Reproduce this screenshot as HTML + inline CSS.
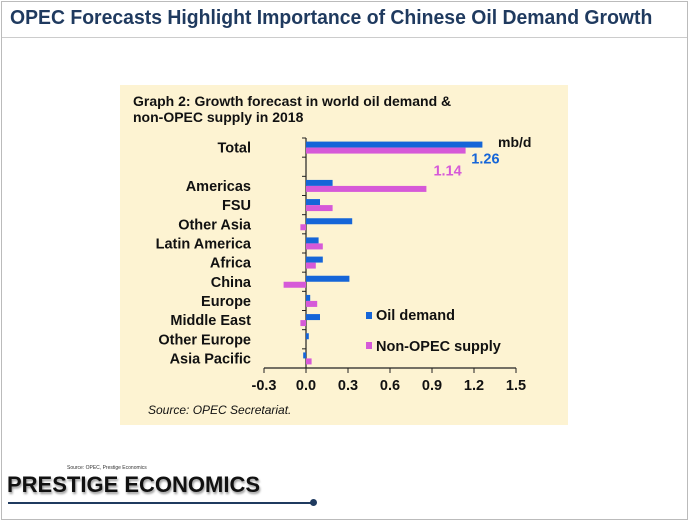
<!DOCTYPE html>
<html><head><meta charset="utf-8"><style>
body{margin:0;width:689px;height:521px;background:#fff;position:relative;overflow:hidden;font-family:"Liberation Sans",sans-serif}
.abs{position:absolute}
</style></head><body>
<div class="abs" style="left:1px;top:1px;width:685px;height:517px;border:1px solid #bbb"></div>
<div class="abs" id="title" style="left:10px;top:7px;font-size:20px;font-weight:bold;color:#1f3a5f;white-space:nowrap;transform-origin:0 0">OPEC Forecasts Highlight Importance of Chinese Oil Demand Growth</div>
<div class="abs" style="left:2px;top:37px;width:685px;height:1px;background:#ccc"></div>
<svg class="abs" style="left:0;top:0" width="689" height="521">
<rect x="120" y="85" width="448" height="340" fill="#fdf3d2"/>
<text x="133" y="106" font-size="14" font-weight="bold" fill="#111">Graph 2: Growth forecast in world oil demand &amp;</text>
<text x="133" y="122" font-size="14" font-weight="bold" fill="#111">non-OPEC supply in 2018</text>
<text x="498" y="147" font-size="14" font-weight="bold" fill="#111">mb/d</text>
<g id="g"></g>
<text x="148" y="414" font-size="12" font-style="italic" fill="#111">Source: OPEC Secretariat.</text>
</svg>
<div class="abs" style="left:67px;top:465px;font-size:5px;color:#333">Source: OPEC, Prestige Economics</div>
<div class="abs" style="left:7px;top:472px;font-size:22px;font-weight:bold;color:#111;letter-spacing:0px;text-shadow:1px 2px 2px #999">PRESTIGE ECONOMICS</div>
<div class="abs" style="left:8px;top:502px;width:306px;height:2px;background:#1f3a5f"></div>
<div class="abs" style="left:310px;top:499px;width:7px;height:7px;border-radius:50%;background:#1f3a5f"></div>
<script>
const categories=["Total","","Americas","FSU","Other Asia","Latin America","Africa","China","Europe","Middle East","Other Europe","Asia Pacific"];
const oilDemand=[1.26,null,0.19,0.10,0.33,0.09,0.12,0.31,0.03,0.10,0.02,-0.02];
const nonOpecSupply=[1.14,null,0.86,0.19,-0.04,0.12,0.07,-0.16,0.08,-0.04,0,0.04];
const ticks=[-0.3,0,0.3,0.6,0.9,1.2,1.5];
const tickLabels=["-0.3","0.0","0.3","0.6","0.9","1.2","1.5"];
const t=document.getElementById('title');t.style.transform='scaleX('+(642/t.offsetWidth)+')';
const NS="http://www.w3.org/2000/svg",g=document.getElementById('g');
const x=v=>306+v*140, top0=138, rowH=230/12, axisY=368;
const y=i=>top0+i*rowH;
function mk(t,a,txt){const e=document.createElementNS(NS,t);for(const k in a)e.setAttribute(k,a[k]);if(txt!==undefined)e.textContent=txt;g.appendChild(e);return e;}
let e=mk('line',{x1:x(0),x2:x(0),y1:top0,y2:axisY,stroke:'#222','stroke-width':1.2});


e=mk('line',{x1:x(-0.3),x2:x(1.5),y1:axisY,y2:axisY,stroke:'#222','stroke-width':1.2});


for(let i=0;i<=12;i++){e=mk('line',{x1:x(0)-4,x2:x(0),y1:y(i),y2:y(i),stroke:'#222'});

}
ticks.forEach((t,i)=>{e=mk('line',{x1:x(t),x2:x(t),y1:axisY,y2:axisY+5,stroke:'#222'});


e=mk('text',{x:x(t),y:axisY+22,'font-size':14.5,'font-weight':'bold','text-anchor':'middle',fill:'#111'},tickLabels[i]);

});
categories.forEach((c,i)=>{const cy=y(i)+rowH/2;
if(c){e=mk('text',{x:251,y:cy+5,'font-size':14.5,'font-weight':'bold','text-anchor':'end',fill:'#111'},c);

}
if(oilDemand[i]!==null){const v=oilDemand[i];
e=mk('rect',{x:Math.min(x(0),x(v)),y:cy-6,width:Math.max(Math.abs(x(v)-x(0)),1),height:6,fill:'#1565d8'});

}
if(nonOpecSupply[i]!==null){const v=nonOpecSupply[i];
e=mk('rect',{x:Math.min(x(0),x(v)),y:cy,width:Math.max(Math.abs(x(v)-x(0)),v===0?0:1),height:6,fill:'#d659d8'});

}
});
e=mk('text',{x:x(oilDemand[0])+3,y:y(0)+rowH/2+16,'font-size':14.5,'font-weight':'bold','text-anchor':'middle',fill:'#1565d8'},oilDemand[0].toFixed(2));


e=mk('text',{x:x(nonOpecSupply[0])-18,y:y(0)+rowH/2+28,'font-size':14.5,'font-weight':'bold','text-anchor':'middle',fill:'#d659d8'},nonOpecSupply[0].toFixed(2));


e=mk('rect',{x:366,y:312,width:6,height:7,fill:'#1565d8'});


e=mk('text',{x:376,y:320,'font-size':14.5,'font-weight':'bold',fill:'#111'},'Oil demand');


e=mk('rect',{x:366,y:342,width:6,height:7,fill:'#d659d8'});


e=mk('text',{x:376,y:351,'font-size':14.5,'font-weight':'bold',fill:'#111'},'Non-OPEC supply');


</script>
</body></html>
